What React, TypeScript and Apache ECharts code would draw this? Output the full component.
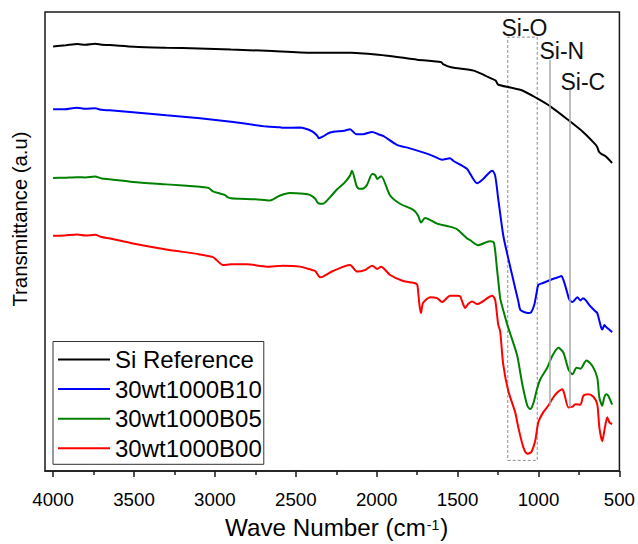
import React, { useEffect, useRef } from "react";
import * as echarts from "echarts";

const FONT = "'Liberation Sans', Arial, Helvetica, sans-serif";

// Wave numbers (cm-1) and transmittance (arbitrary units, offset spectra)
const blackWn = [4000, 3920, 3850, 3800, 3740, 3700, 3650, 3500, 3300, 3100, 2900, 2680, 2400, 2160, 1950, 1750, 1600, 1590, 1540, 1400, 1330, 1300, 1265, 1250, 1175, 1100, 1008, 927, 822, 723, 650, 637, 625, 610, 587, 545];
const blackT = [427.3, 428.5, 429.7, 429, 430, 429, 428.7, 427, 426, 425.3, 424.2, 423, 421, 421, 418.3, 414, 411.5, 409.5, 406.3, 403, 398, 395.7, 393, 389, 386, 383, 375, 367, 354, 341, 329, 326, 321, 319, 317, 310];

const blueWn = [4000, 3930, 3853, 3800, 3741, 3700, 3649, 3507, 3300, 3092, 2900, 2680, 2600, 2580, 2475, 2400, 2370, 2357, 2332, 2288, 2200, 2165, 2127, 2084, 2028, 1990, 1960, 1875, 1800, 1714, 1650, 1596, 1547, 1527, 1484, 1441, 1422, 1379, 1342, 1286, 1268, 1249, 1218, 1187, 1144, 1125, 1113, 1090, 1063, 1045, 1026, 1010, 1001, 977, 927, 880, 859, 846, 825, 809, 790, 760, 741, 725, 710, 679, 650, 637, 625, 612, 606, 593, 587, 575, 560, 545];
const blueT = [364, 364, 365.7, 364.5, 365, 363.5, 363, 361, 358, 355, 351.5, 346.7, 346, 345.5, 345.7, 342, 338, 335, 336.7, 340.7, 342.5, 344, 339, 339, 341.3, 339, 337.3, 328.3, 325, 320.7, 317, 313.3, 314.7, 312.3, 308.3, 304, 299, 289.7, 294, 302.3, 297.3, 274, 237.3, 214, 184, 171, 162.3, 160, 159, 160, 167.3, 181, 187.3, 189, 192.3, 195, 196.3, 192.3, 181, 172.3, 170, 175, 171.7, 174, 172.3, 165.7, 161, 159, 152, 144, 142.3, 147, 145.7, 144, 142, 139.7];

const greenWn = [4000, 3930, 3853, 3800, 3741, 3700, 3649, 3507, 3300, 3092, 3040, 3012, 2969, 2940, 2925, 2900, 2845, 2750, 2660, 2600, 2537, 2450, 2413, 2380, 2362, 2332, 2288, 2246, 2200, 2165, 2153, 2121, 2091, 2060, 2028, 2010, 1997, 1973, 1917, 1856, 1776, 1745, 1726, 1701, 1627, 1559, 1527, 1503, 1441, 1422, 1374, 1301, 1276, 1257, 1237, 1230, 1193, 1160, 1131, 1100, 1069, 1051, 1032, 1010, 989, 946, 915, 877, 846, 815, 790, 765, 741, 704, 667, 637, 624, 606, 594, 581, 569, 545];
const greenT = [295, 295.2, 295.7, 295.5, 296.3, 294.5, 293.7, 291, 288.5, 286, 285, 281.5, 279.3, 278, 276, 274.5, 274, 273.5, 272.3, 277, 279.7, 279, 278, 274, 269.7, 269, 275.7, 283.3, 290, 297.3, 302.3, 285.7, 284, 288, 299, 298, 294, 296.7, 277.3, 269, 263, 257.3, 250, 254.7, 249, 246.3, 245, 243.3, 234, 232.3, 227.3, 231.3, 230, 204, 174, 169, 147.3, 131, 115.7, 87.3, 65.7, 62.3, 68, 82, 92.3, 104, 115.7, 124, 119, 102.3, 97.3, 104, 103, 111.3, 105.7, 94, 74, 65.7, 74, 77.3, 75.7, 66.7];

const redWn = [4000, 3930, 3853, 3800, 3741, 3700, 3649, 3507, 3300, 3092, 3012, 2990, 2950, 2900, 2800, 2680, 2580, 2475, 2400, 2380, 2350, 2332, 2270, 2165, 2121, 2072, 2028, 1997, 1973, 1917, 1837, 1762, 1749, 1736, 1726, 1714, 1670, 1627, 1596, 1547, 1503, 1484, 1472, 1453, 1435, 1410, 1379, 1286, 1268, 1249, 1237, 1218, 1187, 1144, 1125, 1094, 1069, 1045, 1020, 1001, 971, 940, 909, 884, 853, 840, 815, 790, 772, 741, 723, 692, 661, 637, 624, 606, 593, 575, 562, 545];
const redT = [236.7, 237, 238, 237, 237.7, 235.5, 234, 229, 223, 218, 215.3, 212.3, 207.3, 208, 208, 205.7, 206.7, 205.7, 202.3, 201.3, 195, 195.7, 201.3, 207.3, 200.7, 202.3, 206.7, 203.3, 205.7, 197.3, 191.3, 189, 187.3, 167.3, 159, 169, 175, 174, 170, 176.5, 176.3, 175.7, 170.7, 164, 168, 170.7, 168, 176.3, 172.3, 147.3, 140.7, 107.3, 80.7, 59, 44, 24, 17.3, 19, 30.7, 49, 59, 65.7, 74, 79, 82.3, 77.3, 64, 64.7, 67.3, 66.7, 75.7, 77.3, 74.7, 67.3, 44, 30, 40.7, 54, 49, 47.3];

const seriesNames = ["Si Reference", "30wt1000B10", "30wt1000B05", "30wt1000B00"];
const seriesColors = ["#000000", "#0000ff", "#008000", "#ff0000"];

const majorTicks = [500, 1000, 1500, 2000, 2500, 3000, 3500, 4000];
const minorTicks = [750, 1250, 1750, 2250, 2750, 3250, 3750];

// Annotation positions (wavenumber, transmittance units)
const siOBox = [1190, 1008];
const siOBoxT = [10.7, 436.7];
const siNLine = { wn: 933, t: [66, 414] };
const siCLine = { wn: 807, t: [64, 384] };

const zip = (xs: number[], ys: number[]) => xs.map((x, i) => [x, ys[i]]);

export default function App() {
  const ref = useRef<HTMLDivElement>(null);
  useEffect(() => {
    document.body.style.margin = "0";
    const chart = echarts.init(ref.current!, null, { renderer: "svg" });
    const datas = [zip(blackWn, blackT), zip(blueWn, blueT), zip(greenWn, greenT), zip(redWn, redT)];
    const series: any[] = datas.map((d, i) => ({
      name: seriesNames[i],
      type: "line",
      xAxisIndex: 0,
      data: d,
      symbol: "none",
      showSymbol: false,
      smooth: 0.25,
      lineStyle: { color: seriesColors[i], width: 2 },
      itemStyle: { color: seriesColors[i] },
      z: 3,
    }));
    series[0].markArea = {
      silent: true,
      itemStyle: { color: "rgba(0,0,0,0)", borderColor: "#8c8c8c", borderWidth: 1, borderType: [3, 2] },
      data: [[{ coord: [siOBox[0], siOBoxT[0]] }, { coord: [siOBox[1], siOBoxT[1]] }]],
    };
    series[0].markLine = {
      silent: true,
      symbol: "none",
      animation: false,
      label: { show: false },
      lineStyle: { color: "#a8a8a8", width: 1.5, type: "solid" },
      data: [
        [{ coord: [siNLine.wn, siNLine.t[0]] }, { coord: [siNLine.wn, siNLine.t[1]] }],
        [{ coord: [siCLine.wn, siCLine.t[0]] }, { coord: [siCLine.wn, siCLine.t[1]] }],
      ],
    };

    chart.setOption({
      animation: false,
      backgroundColor: "#ffffff",
      textStyle: { fontFamily: FONT },
      grid: {
        left: 45,
        right: 18,
        top: 12,
        bottom: 69.5,
        show: true,
        borderColor: "#1a1a1a",
        borderWidth: 1.5,
        backgroundColor: "transparent",
      },
      legend: {
        orient: "vertical",
        left: 53,
        top: 341.5,
        itemWidth: 52,
        itemHeight: 14,
        itemGap: 5.6,
        padding: [6, 2, 4, 4],
        borderColor: "#333333",
        borderWidth: 1,
        backgroundColor: "#ffffff",
        itemStyle: { opacity: 0 },
        textStyle: { fontSize: 24, color: "#000", fontFamily: FONT },
        data: seriesNames,
      },
      xAxis: [
        {
          type: "value",
          min: 500,
          max: 4050,
          interval: 500,
          inverse: true,
          position: "bottom",
          axisLine: { show: true, lineStyle: { color: "#1a1a1a", width: 1.5 } },
          axisTick: { show: true, customValues: majorTicks, length: 6, lineStyle: { color: "#1a1a1a", width: 1.5 } },
          axisLabel: {
            customValues: majorTicks,
            fontSize: 18.7,
            color: "#000",
            margin: 19,
            fontFamily: FONT,
            formatter: (v: number) => String(v),
          },
          splitLine: { show: false },
          name: "{t|Wave Number (cm}{s|-1}{t|)}",
          nameLocation: "middle",
          nameGap: 44,
          nameTextStyle: {
            padding: [0, 0, 0, 9],
            rich: {
              t: { fontSize: 24.2, color: "#000", fontFamily: FONT },
              s: { fontSize: 14, color: "#000", fontFamily: FONT, verticalAlign: "top", padding: [3, 1, 0, 1] },
            },
          },
        },
        {
          type: "value",
          min: 500,
          max: 4050,
          interval: 500,
          inverse: true,
          position: "bottom",
          axisLine: { show: false },
          axisTick: { show: true, customValues: minorTicks, length: 4, lineStyle: { color: "#1a1a1a", width: 1.5 } },
          axisLabel: { show: false },
          splitLine: { show: false },
        },
      ],
      yAxis: {
        type: "value",
        min: 0,
        max: 462,
        axisLine: { show: false },
        axisTick: { show: false },
        axisLabel: { show: false },
        splitLine: { show: false },
        name: "Transmittance (a.u)",
        nameLocation: "middle",
        nameRotate: 90,
        nameGap: 15,
        nameTextStyle: { fontSize: 20.3, color: "#000", fontFamily: FONT, padding: [0, 0, 0, 45] },
      },
      graphic: [
        { type: "text", left: 501.5, top: 16, style: { text: "Si-O", fontSize: 23, fill: "#111", fontFamily: FONT } },
        { type: "text", left: 539.5, top: 39, style: { text: "Si-N", fontSize: 23, fill: "#111", fontFamily: FONT } },
        { type: "text", left: 560.5, top: 70, style: { text: "Si-C", fontSize: 23, fill: "#111", fontFamily: FONT } },
      ],
      series,
    });
    return () => chart.dispose();
  }, []);
  return <div ref={ref} style={{ position: "absolute", left: 0, top: 0, width: 638, height: 544 }} />;
}
